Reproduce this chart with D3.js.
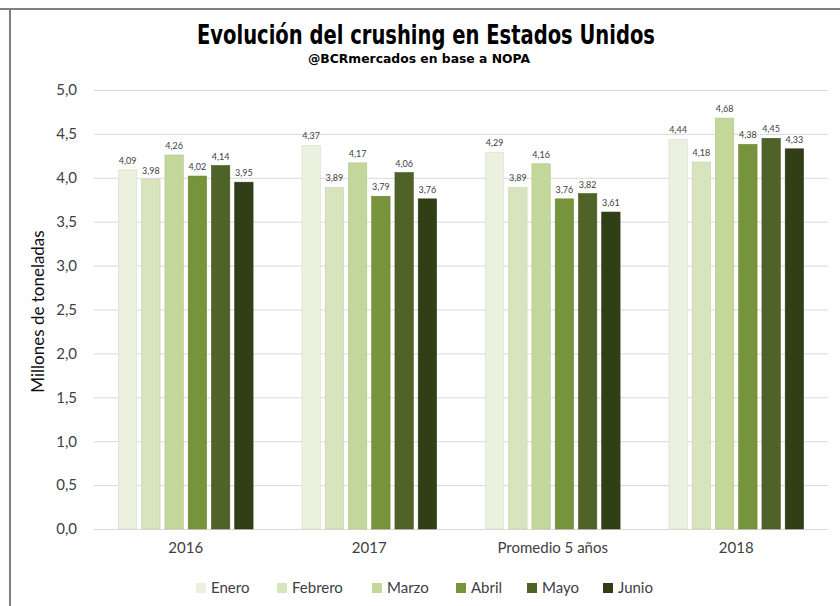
<!DOCTYPE html>
<html>
<head>
<meta charset="utf-8">
<title>Evolución del crushing en Estados Unidos</title>
<script src="https://cdnjs.cloudflare.com/ajax/libs/d3/7.8.5/d3.min.js"></script>
<style>
  body { margin: 0; background: #fff; }
  svg text { font-family: Lato, "Open Sans", sans-serif; fill: #404040; }
  .titulo { font-family: "DejaVu Sans", sans-serif; font-weight: bold; fill: #000; }
  .grid line { stroke: #d9d9d9; stroke-width: 1; }
  .etiqueta { font-size: 9px; fill: #404040; }
</style>
</head>
<body>
<div id="grafico"></div>
<script>
// datos
var categorias = ["2016", "2017", "Promedio 5 años", "2018"];
var meses = ["Enero", "Febrero", "Marzo", "Abril", "Mayo", "Junio"];
var enero   = [4.09, 4.37, 4.29, 4.44];
var febrero = [3.98, 3.89, 3.89, 4.18];
var marzo   = [4.26, 4.17, 4.16, 4.68];
var abril   = [4.02, 3.79, 3.76, 4.38];
var mayo    = [4.14, 4.06, 3.82, 4.45];
var junio   = [3.95, 3.76, 3.61, 4.33];
var ticksY = [0, 0.5, 1, 1.5, 2, 2.5, 3, 3.5, 4, 4.5, 5];

var series = [enero, febrero, marzo, abril, mayo, junio];
var colores = ["#ebf1de", "#d7e4bd", "#c4d79b", "#77933c", "#4f6228", "#313f17"];

var ancho = 840, alto = 606;
var m = { izq: 94, der: 12, arriba: 90, abajo: 77 };

var svg = d3.select("#grafico").append("svg")
  .attr("width", ancho).attr("height", alto);

// marco
svg.append("line").attr("x1", 0).attr("x2", ancho).attr("y1", 9).attr("y2", 9)
  .attr("stroke", "#7f7f7f").attr("stroke-width", 2);
svg.append("line").attr("x1", 10).attr("x2", 10).attr("y1", 9).attr("y2", alto)
  .attr("stroke", "#7f7f7f").attr("stroke-width", 2);

var x0 = d3.scaleBand().domain(categorias)
  .range([m.izq, ancho - m.der]).paddingInner(0).paddingOuter(0);
var x1 = d3.scaleBand().domain(meses)
  .range([0, x0.bandwidth()]).paddingInner(0.21).paddingOuter(1.05);
var y = d3.scaleLinear().domain([0, 5]).range([alto - m.abajo, m.arriba]);

var fmt = function (v) { return d3.format(".2f")(v).replace(".", ","); };
var fmtEje = function (v) { return d3.format(".1f")(v).replace(".", ","); };

// cuadrícula
svg.append("g").attr("class", "grid")
  .attr("transform", "translate(" + m.izq + ",0)")
  .call(d3.axisLeft(y).tickValues(ticksY).tickSize(-(ancho - m.izq - m.der)).tickFormat(""))
  .call(function (g) { g.select(".domain").remove(); });

// eje y
svg.append("g")
  .attr("transform", "translate(" + (m.izq - 14) + ",0)")
  .call(d3.axisLeft(y).tickValues(ticksY).tickSize(0).tickFormat(fmtEje))
  .call(function (g) {
    g.select(".domain").remove();
    g.selectAll("text").style("font-size", "15px").attr("fill", "#404040");
  });

// eje x
svg.append("g")
  .attr("transform", "translate(0," + (alto - m.abajo) + ")")
  .call(d3.axisBottom(x0).tickSize(0).tickPadding(13))
  .call(function (g) {
    g.select(".domain").remove();
    g.selectAll("text").style("font-size", "15px").attr("fill", "#404040");
  });

// barras
var grupos = svg.selectAll(".grupo").data(categorias).enter().append("g")
  .attr("transform", function (d) { return "translate(" + x0(d) + ",0)"; });

grupos.each(function (cat, i) {
  var g = d3.select(this);
  var filas = meses.map(function (mes, j) { return { mes: mes, valor: series[j][i], color: colores[j] }; });
  g.selectAll("rect").data(filas).enter().append("rect")
    .attr("x", function (d) { return x1(d.mes); })
    .attr("width", x1.bandwidth())
    .attr("y", function (d) { return y(d.valor); })
    .attr("height", function (d) { return y(0) - y(d.valor); })
    .attr("fill", function (d) { return d.color; })
    .attr("stroke", function (d) { return d3.color(d.color).darker(0.25); })
    .attr("stroke-width", 0.6);
  g.selectAll(".etiqueta").data(filas).enter().append("text")
    .attr("class", "etiqueta")
    .attr("x", function (d) { return x1(d.mes) + x1.bandwidth() / 2; })
    .attr("y", function (d) { return y(d.valor) - 6; })
    .attr("text-anchor", "middle")
    .text(function (d) { return fmt(d.valor); });
});

// título del eje
svg.append("text")
  .attr("transform", "translate(44," + ((y(0) + y(5)) / 2 + 2) + ") rotate(-90)")
  .attr("text-anchor", "middle")
  .style("font-size", "17px")
  .style("fill", "#111")
  .text("Millones de toneladas");

// títulos
svg.append("text").attr("class", "titulo")
  .attr("x", 426).attr("y", 44).attr("text-anchor", "middle")
  .attr("textLength", 458).attr("lengthAdjust", "spacingAndGlyphs")
  .style("font-size", "27px")
  .text("Evolución del crushing en Estados Unidos");
svg.append("text").attr("class", "titulo")
  .attr("x", 419).attr("y", 63).attr("text-anchor", "middle")
  .attr("textLength", 222).attr("lengthAdjust", "spacingAndGlyphs")
  .style("font-size", "13px")
  .text("@BCRmercados en base a NOPA");

// leyenda
var posLeyenda = [196, 277, 372, 456, 527, 603];
var ley = svg.selectAll(".ley").data(meses).enter().append("g")
  .attr("transform", function (d, i) { return "translate(" + posLeyenda[i] + ",583)"; });
ley.append("rect").attr("width", 10).attr("height", 10)
  .attr("fill", function (d, i) { return colores[i]; });
ley.append("text").attr("x", 15).attr("y", 10)
  .style("font-size", "15px")
  .text(function (d) { return d; });
</script>
</body>
</html>
